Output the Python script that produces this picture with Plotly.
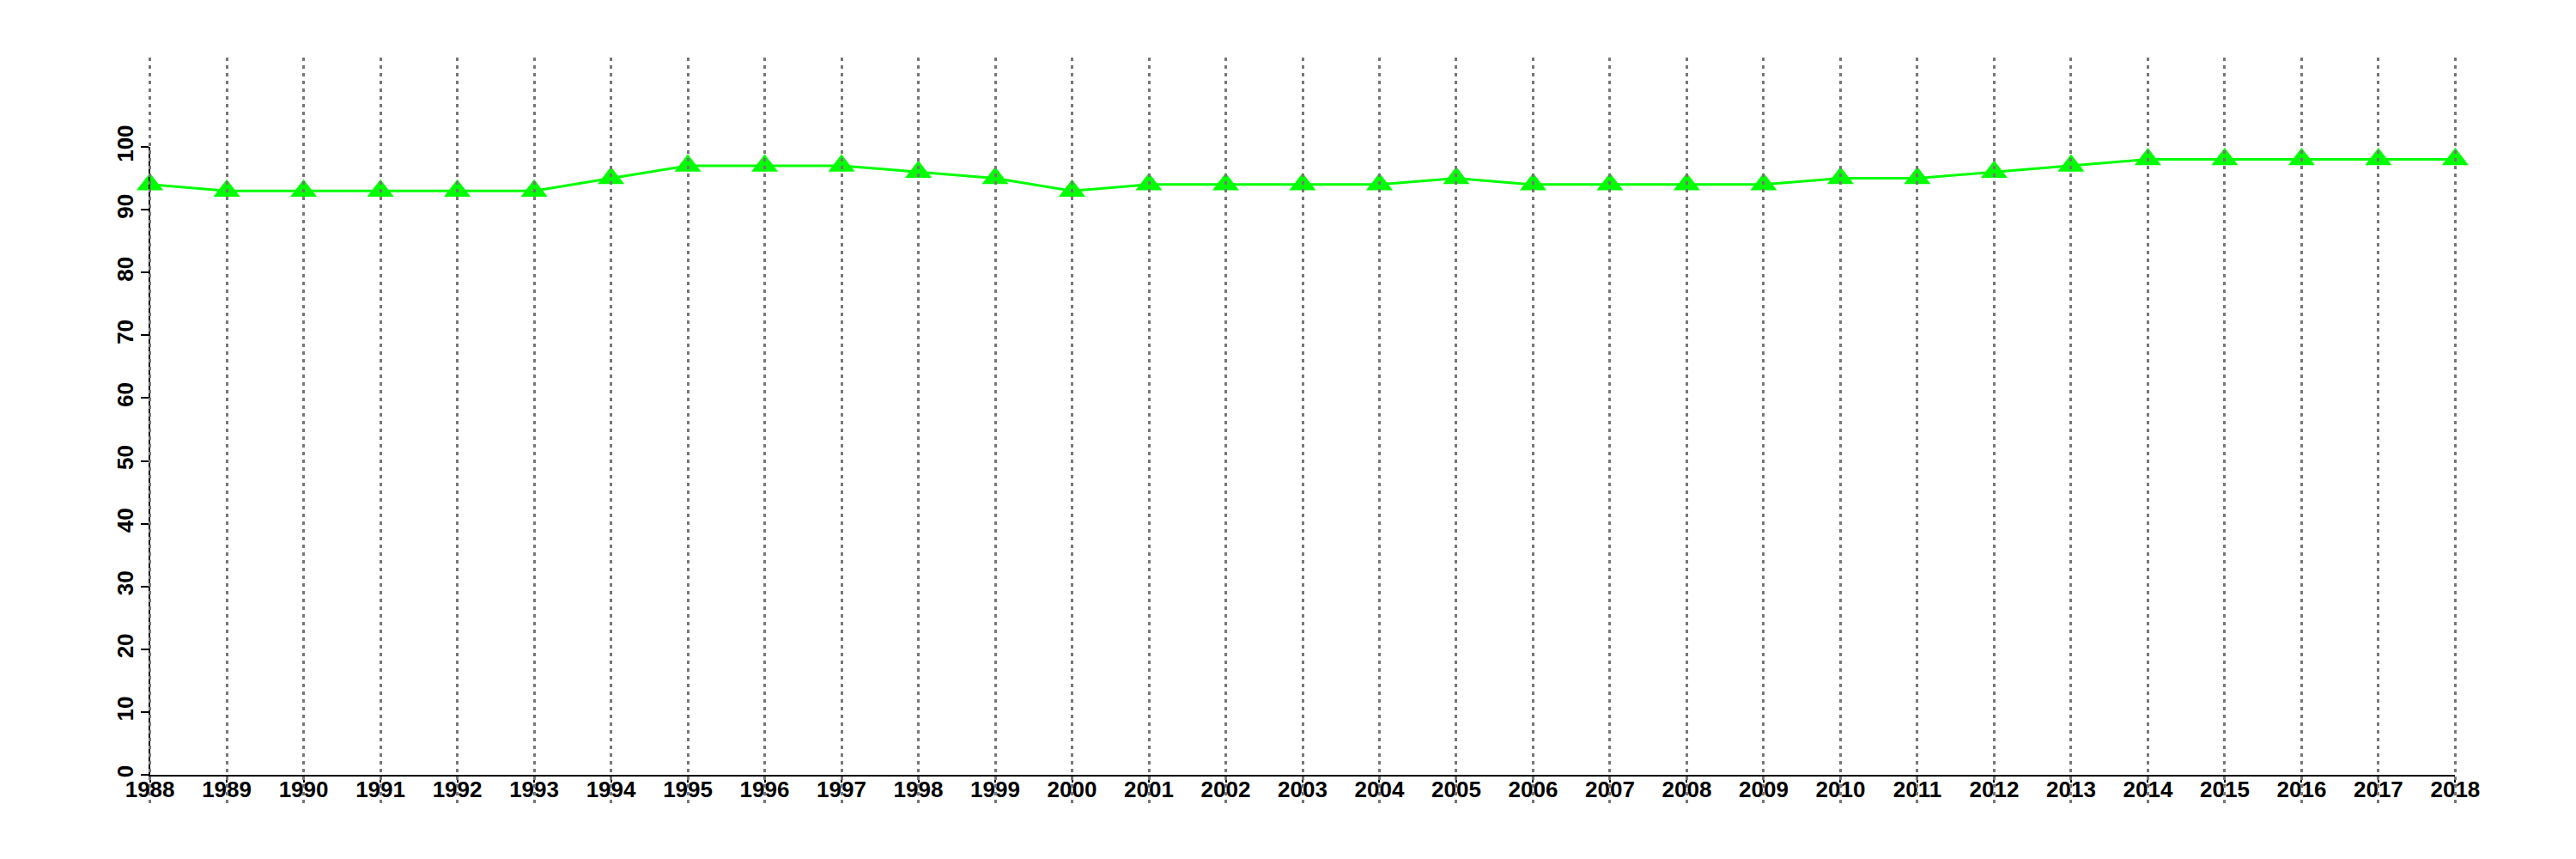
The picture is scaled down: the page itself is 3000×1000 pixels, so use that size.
import plotly.graph_objects as go

years = list(range(1988, 2019))
year_labels = [str(y) for y in years]
values = [94, 93, 93, 93, 93, 93, 95, 97, 97, 97, 96, 95, 93, 94, 94, 94, 94, 95,
          94, 94, 94, 94, 95, 95, 96, 97, 98, 98, 98, 98, 98]
y_ticks = list(range(0, 101, 10))
y_tick_labels = [str(v) for v in y_ticks]

W, H = 3000, 1000
# target pixel geometry
plot_l, plot_r, plot_t, plot_b = 59, 2970, 59, 927
x0px, x1px = 167, 2862
y0px, y1px = 894, 163

ml, mt = plot_l, plot_t
mr, mb = W - plot_r, H - plot_b
pw, ph = plot_r - plot_l, plot_b - plot_t

xdom = [(x0px - plot_l) / pw, (x1px - plot_l) / pw]
ydom = [(plot_b - y0px) / ph, (plot_b - y1px) / ph]
ppy = (x1px - x0px) / (years[-1] - years[0])
x2range = [years[0] - (x0px - plot_l) / ppy, years[-1] + (plot_r - x1px) / ppy]

font = dict(family="Liberation Sans Narrow, Liberation Sans, Arial, sans-serif",
            size=26, color="black", weight="bold")

fig = go.Figure()
fig.add_trace(go.Scatter(
    x=years, y=values, mode="lines+markers",
    line=dict(color="#00FF00", width=3),
    marker=dict(symbol="triangle-up", size=27, color="#00FF00"),
    cliponaxis=False, showlegend=False, xaxis="x", yaxis="y"))
fig.add_trace(go.Scatter(x=[], y=[], xaxis="x2", yaxis="y2", showlegend=False,
                         hoverinfo="skip"))

fig.update_layout(
    width=W, height=H,
    margin=dict(l=ml, r=mr, t=mt, b=mb, pad=0),
    paper_bgcolor="white", plot_bgcolor="rgba(0,0,0,0)",
    xaxis=dict(domain=xdom, range=[years[0], years[-1]], anchor="y",
               tickmode="array", tickvals=years, ticktext=year_labels,
               showline=True, linecolor="black", linewidth=2,
               ticks="outside", ticklen=7, tickwidth=2, tickcolor="black",
               ticklabelstandoff=-14,
               showgrid=False, zeroline=False, tickfont=font),
    yaxis=dict(domain=ydom, range=[0, 100], anchor="x",
               tickmode="array", tickvals=y_ticks, ticktext=y_tick_labels,
               tickangle=-90,
               showline=True, linecolor="black", linewidth=2,
               ticks="outside", ticklen=9, tickwidth=2, tickcolor="black",
               ticklabelstandoff=-2,
               showgrid=False, zeroline=False, tickfont=font),
    xaxis2=dict(domain=[0, 1], range=x2range, anchor="y2",
                tickmode="array", tickvals=years, showticklabels=False,
                ticks="", showline=False, zeroline=False,
                showgrid=True, gridcolor="#777777", gridwidth=2.5,
                griddash="4px,5px"),
    yaxis2=dict(domain=[0, 1], range=[0, 1], anchor="x2",
                showgrid=False, showticklabels=False, ticks="",
                showline=False, zeroline=False),
)

fig.write_html("out.html", config={"displayModeBar": False})
